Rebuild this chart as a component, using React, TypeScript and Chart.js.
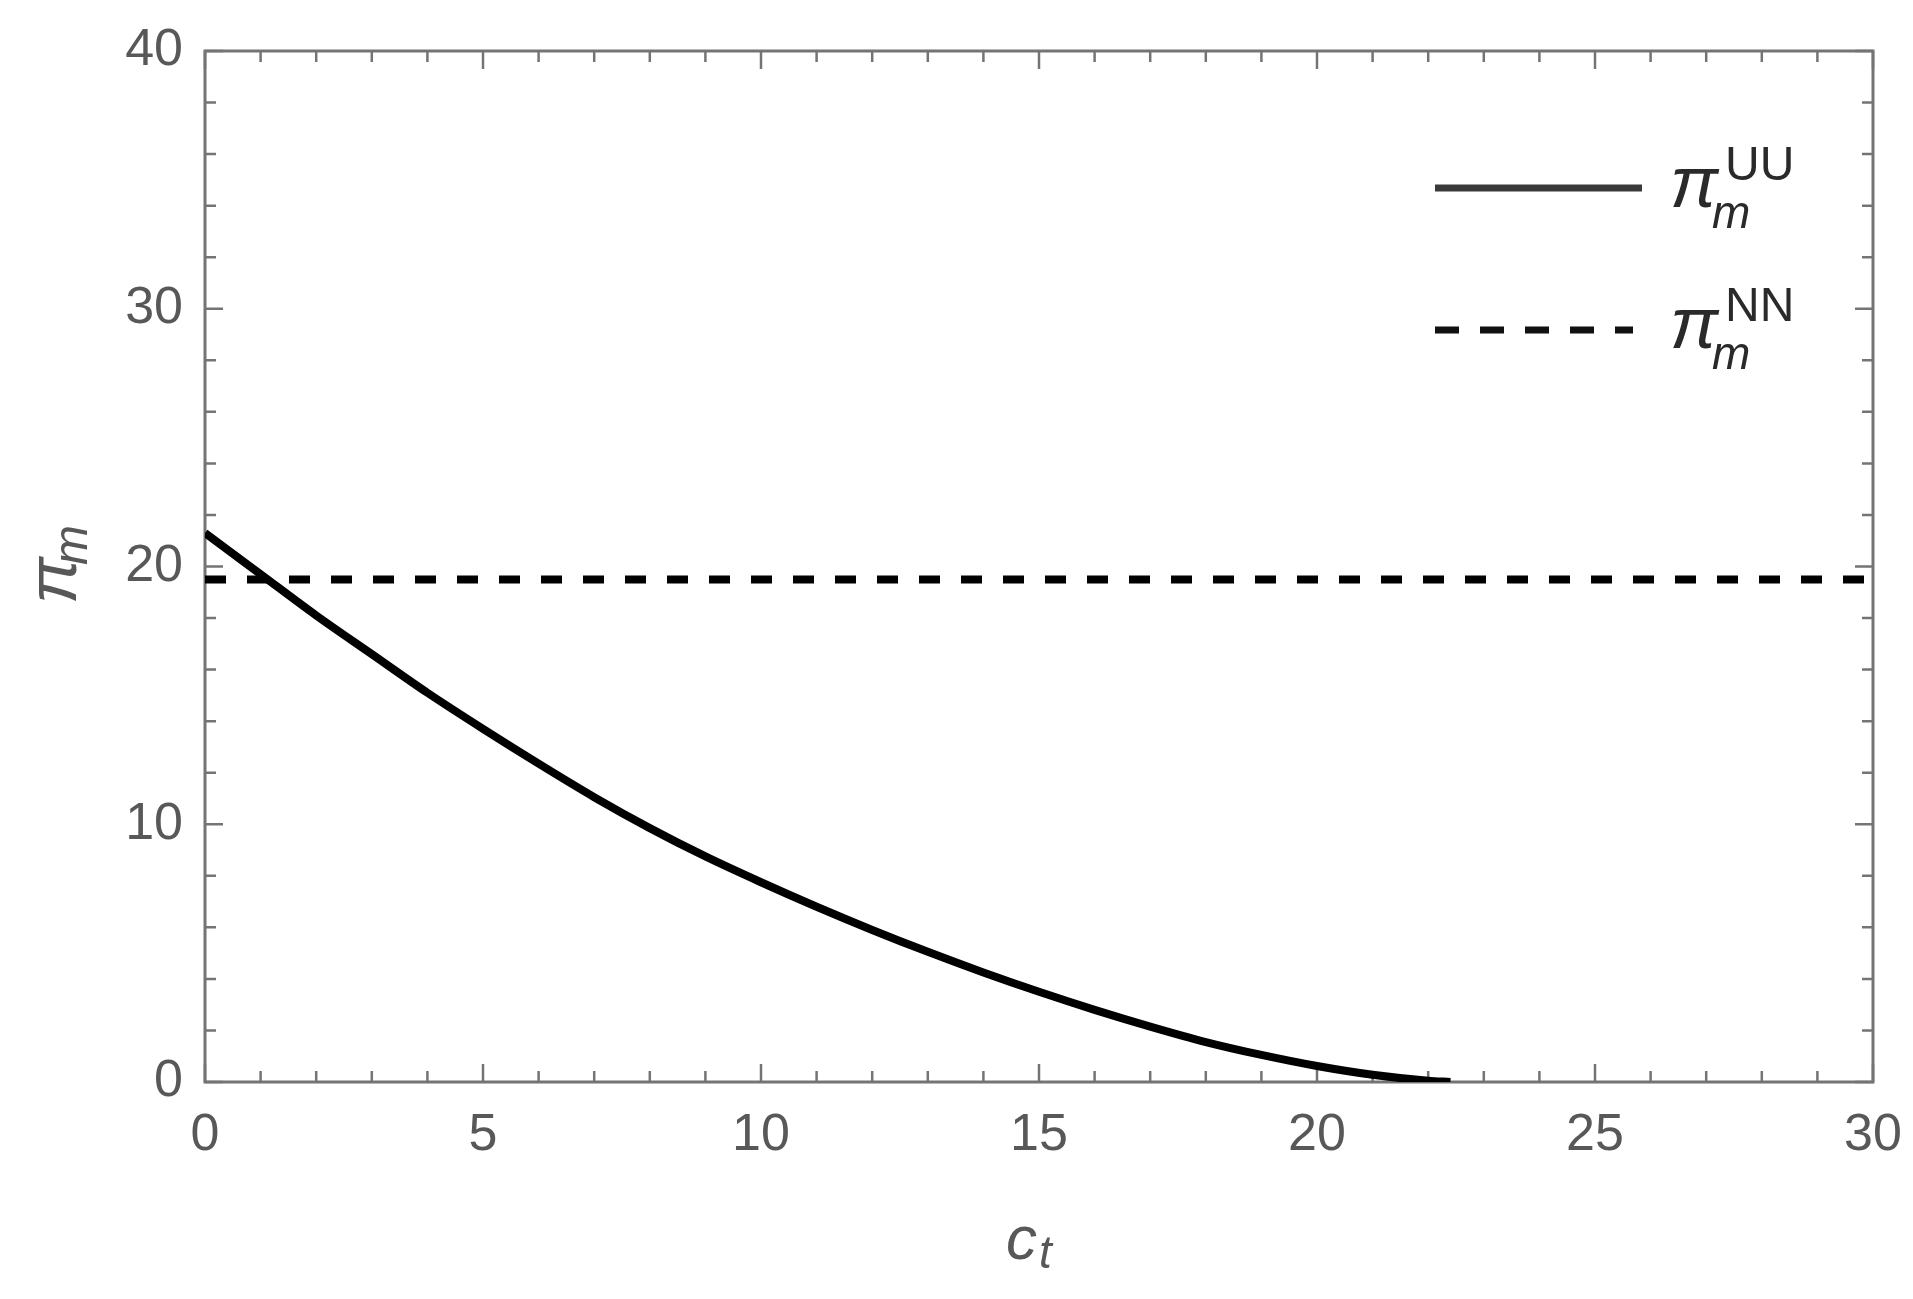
import React, { useEffect, useRef } from "react";
import { Chart, registerables } from "chart.js";

Chart.register(...registerables);

// ---- data ----
const costValues = [0, 1, 2, 3, 4, 5, 6, 7, 8, 9, 10, 11, 12, 13, 14, 15, 16, 17, 18, 19, 20, 21, 22, 22.4];
const profitUU = [21.3, 19.7, 18.1, 16.6, 15.1, 13.7, 12.35, 11.05, 9.85, 8.75, 7.75, 6.8, 5.9, 5.05, 4.25, 3.5, 2.8, 2.15, 1.55, 1.05, 0.62, 0.28, 0.05, 0];
const nnCost = [0, 30];
const profitNN = [19.5, 19.5];

const xMajorTicks = [0, 5, 10, 15, 20, 25, 30];
const yMajorTicks = [0, 10, 20, 30, 40];
const xMinorTicks = [1, 2, 3, 4, 6, 7, 8, 9, 11, 12, 13, 14, 16, 17, 18, 19, 21, 22, 23, 24, 26, 27, 28, 29];
const yMinorTicks = [2, 4, 6, 8, 12, 14, 16, 18, 22, 24, 26, 28, 32, 34, 36, 38];

const FONT = '"Liberation Sans", Arial, sans-serif';
const AXIS_GRAY = "#747474";
const LABEL_GRAY = "#585858";

const noPadding = (s: any) => {
  s.paddingLeft = 0;
  s.paddingRight = 0;
  s.paddingTop = 0;
  s.paddingBottom = 0;
};

const framePlugin = {
  id: "mmaFrame",
  beforeDatasetsDraw(chart: any) {
    const { ctx, chartArea: a, scales } = chart;
    const xs = scales.x;
    const ys = scales.y;
    ctx.save();
    ctx.strokeStyle = AXIS_GRAY;
    ctx.lineWidth = 2.5;
    const major = 18;
    const minor = 11;
    const vTick = (v: number, len: number) => {
      const px = xs.getPixelForValue(v);
      ctx.beginPath();
      ctx.moveTo(px, a.bottom);
      ctx.lineTo(px, a.bottom - len);
      ctx.moveTo(px, a.top);
      ctx.lineTo(px, a.top + len);
      ctx.stroke();
    };
    const hTick = (v: number, len: number) => {
      const py = ys.getPixelForValue(v);
      ctx.beginPath();
      ctx.moveTo(a.left, py);
      ctx.lineTo(a.left + len, py);
      ctx.moveTo(a.right, py);
      ctx.lineTo(a.right - len, py);
      ctx.stroke();
    };
    xMajorTicks.forEach((v) => vTick(v, major));
    xMinorTicks.forEach((v) => vTick(v, minor));
    yMajorTicks.forEach((v) => hTick(v, major));
    yMinorTicks.forEach((v) => hTick(v, minor));
    ctx.lineWidth = 3;
    ctx.strokeRect(a.left, a.top, a.right - a.left, a.bottom - a.top);
    ctx.restore();
  },
  afterDraw(chart: any) {
    const { ctx } = chart;
    ctx.save();
    ctx.textAlign = "left";
    ctx.textBaseline = "alphabetic";

    // legend
    const legendColor = "#2a2a2a";
    ctx.strokeStyle = "#3a3a3a";
    ctx.lineWidth = 7;
    ctx.beginPath();
    ctx.moveTo(1435, 188);
    ctx.lineTo(1642, 188);
    ctx.stroke();
    ctx.setLineDash([24, 21]);
    ctx.strokeStyle = "#111";
    ctx.beginPath();
    ctx.moveTo(1435, 330);
    ctx.lineTo(1633, 330);
    ctx.stroke();
    ctx.setLineDash([]);

    const rows = [
      { sup: "UU", base: 207 },
      { sup: "NN", base: 348 },
    ];
    rows.forEach((r) => {
      ctx.fillStyle = legendColor;
      ctx.font = `italic 72px ${FONT}`;
      ctx.fillText("π", 1670, r.base);
      ctx.font = `italic 46px ${FONT}`;
      ctx.fillText("m", 1712, r.base + 21);
      ctx.font = `48px ${FONT}`;
      ctx.fillText(r.sup, 1725, r.base - 27);
    });

    // x axis title c_t
    ctx.fillStyle = LABEL_GRAY;
    ctx.font = `italic 62px ${FONT}`;
    ctx.fillText("c", 1006, 1259);
    ctx.font = `italic 46px ${FONT}`;
    ctx.fillText("t", 1039, 1268);

    // y axis title π_m (rotated)
    ctx.save();
    ctx.translate(76, 604);
    ctx.rotate(-Math.PI / 2);
    ctx.font = `italic 70px ${FONT}`;
    ctx.fillText("π", 0, 0);
    ctx.font = `italic 48px ${FONT}`;
    ctx.fillText("m", 39, 11);
    ctx.restore();

    ctx.restore();
  },
};

export default function App() {
  const canvasRef = useRef<HTMLCanvasElement | null>(null);

  useEffect(() => {
    const canvas = canvasRef.current;
    if (!canvas) return;
    const chart = new Chart(canvas, {
      type: "line",
      data: {
        datasets: [
          {
            label: "πUU",
            data: costValues.map((c, i) => ({ x: c, y: profitUU[i] })),
            borderColor: "#000",
            borderWidth: 8,
            pointRadius: 0,
            cubicInterpolationMode: "monotone",
            fill: false,
          },
          {
            label: "πNN",
            data: nnCost.map((c, i) => ({ x: c, y: profitNN[i] })),
            borderColor: "#000",
            borderWidth: 8,
            borderDash: [21, 21],
            pointRadius: 0,
            fill: false,
          },
        ],
      },
      options: {
        responsive: false,
        animation: false,
        devicePixelRatio: 1,
        layout: { padding: { top: 51, right: 40, left: 0, bottom: 0 } },
        plugins: { legend: { display: false }, tooltip: { enabled: false } },
        scales: {
          x: {
            type: "linear",
            min: 0,
            max: 30,
            afterFit: (s: any) => {
              s.height = 217;
              noPadding(s);
            },
            grid: { display: false, drawTicks: false },
            border: { display: false },
            ticks: {
              stepSize: 5,
              padding: 22,
              color: LABEL_GRAY,
              font: { family: FONT, size: 52 },
              maxRotation: 0,
              autoSkip: false,
            },
          },
          y: {
            type: "linear",
            min: 0,
            max: 40,
            afterFit: (s: any) => {
              s.width = 205;
              noPadding(s);
            },
            grid: { display: false, drawTicks: false },
            border: { display: false },
            ticks: {
              stepSize: 10,
              padding: 22,
              color: LABEL_GRAY,
              font: { family: FONT, size: 52 },
              autoSkip: false,
            },
          },
        },
      } as any,
      plugins: [framePlugin],
    });
    return () => chart.destroy();
  }, []);

  return (
    <div style={{ position: "fixed", left: 0, top: 0, width: 1913, height: 1299, background: "#fff" }}>
      <canvas ref={canvasRef} width={1913} height={1299} style={{ display: "block" }} />
    </div>
  );
}
